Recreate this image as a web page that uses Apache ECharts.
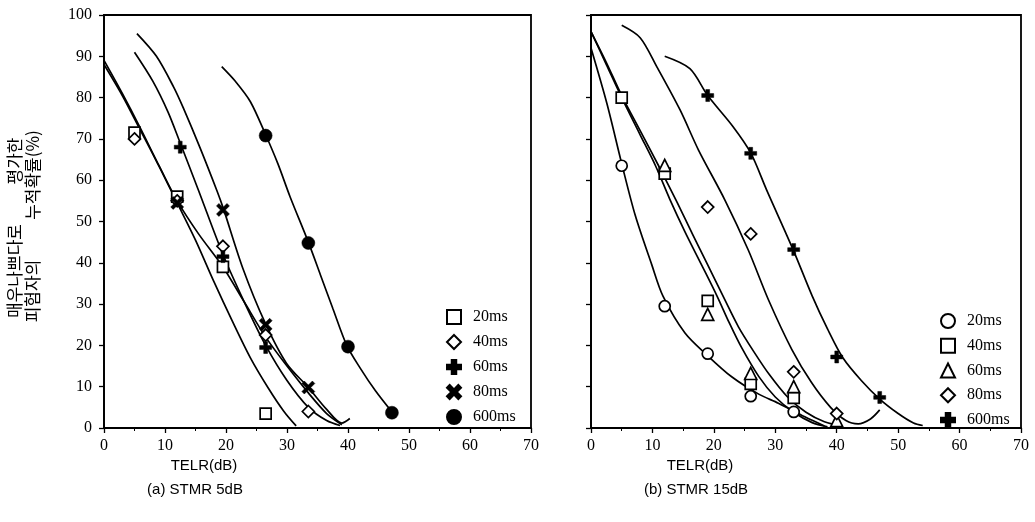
<!DOCTYPE html>
<html>
<head>
<meta charset="utf-8">
<script src="https://cdn.jsdelivr.net/npm/echarts@6/dist/echarts.min.js"></script>
<style>
html, body { margin: 0; padding: 0; background: #fff; }
#chart { width: 1035px; height: 522px; }
</style>
</head>
<body>
<div id="chart"></div>
<script>
// x ticks (TELR, dB) and y ticks (cumulative %)
const xTicks = [0, 10, 20, 30, 40, 50, 60, 70];
const yTicks = [0, 10, 20, 30, 40, 50, 60, 70, 80, 90, 100];
const delays = ['20ms', '40ms', '60ms', '80ms', '600ms'];

// (a) STMR 5dB - measured points
const a20 = [[5, 71.5], [12, 56], [19.5, 39], [26.5, 3.5]];
const a40 = [[5, 70], [12, 55], [19.5, 44], [26.5, 22.5], [33.5, 4]];
const a60 = [[12.5, 68], [19.5, 41.5], [26.5, 19.5]];
const a80 = [[12, 54.5], [19.5, 52.8], [26.5, 25], [33.5, 9.8]];
const a600 = [[26.5, 70.8], [33.5, 44.8], [40, 19.7], [47.2, 3.7]];

// (a) fitted curves
const ca20 = [[0, 89], [3, 81], [6, 72.5], [9, 63.5], [12, 54.5], [15, 45.5], [18, 35.5], [21, 26], [24, 17], [27, 9.5], [29.5, 4], [31.5, 0.5]];
const ca40 = [[0, 88], [3, 80.5], [6, 72], [9, 63.5], [12, 55], [15.5, 47], [19.5, 39], [23, 30.5], [26.5, 22], [30, 15], [33.5, 8.5], [36.5, 3.5], [39, 0.8]];
const ca60 = [[5, 91], [8, 84], [10.5, 76.5], [12.5, 69], [15.5, 57.5], [19.5, 42], [23, 30.5], [26.5, 20], [30, 11.5], [33.5, 5], [36.5, 1.8], [38.7, 0.6]];
const ca80 = [[5.4, 95.5], [8.6, 90], [11.4, 82.6], [13, 77.5], [15.7, 68], [18.5, 57.5], [19.6, 53], [22.8, 38.5], [26.4, 25.5], [29.9, 15.7], [33.5, 9.8], [36.5, 4.5], [39, 1.2], [40.3, 2.3]];
const ca600 = [[19.3, 87.5], [21.5, 84], [24, 79], [26.5, 71], [28.5, 64], [30.5, 56], [33.5, 45], [35.5, 37], [37.5, 29], [39.8, 20], [42, 14.5], [44.5, 9], [47.3, 3.7]];

// (b) STMR 15dB - measured points
const b20 = [[5, 63.5], [12, 29.5], [19, 18], [26, 7.7], [33, 3.9]];
const b40 = [[5, 80], [12, 61.6], [19, 30.8], [26, 10.7], [33, 7.3]];
const b60 = [[12, 63.6], [19, 27.5], [26, 13.2], [33, 10], [40, 1.8]];
const b80 = [[19, 53.5], [26, 47], [33, 13.6], [40, 3.5]];
const b600 = [[19, 80.5], [26, 66.5], [33, 43.2], [40, 17.2], [47, 7.4]];

// (b) fitted curves
const cb20 = [[0, 92], [2.6, 78.5], [5, 64], [7.2, 51.5], [9.9, 39.5], [11.7, 32], [15.3, 23], [19, 17.5], [22.9, 12.4], [27.3, 8.2], [30.5, 6], [34.8, 2.7], [38, 0.5]];
const cb40 = [[0, 96], [2.5, 88], [5, 80], [8, 71], [10.5, 63.5], [12.8, 55.5], [15.3, 47.5], [18, 39.5], [20.5, 32], [22.5, 25.5], [24.5, 19.5], [27.3, 12.5], [30, 7.5], [33, 3.8], [36, 1.3], [38.5, 0.3]];
const cb60 = [[0, 96], [2.5, 88.5], [5, 80.5], [8, 72], [11, 63.5], [13.9, 55], [16.5, 47], [19, 39.5], [21.8, 31], [24, 24.5], [26.5, 18.5], [29, 13], [32, 7.5], [35, 3.8], [38, 1.5], [41, 0.4]];
const cb80 = [[5, 97.5], [8, 94.5], [10.7, 87.5], [14.5, 77], [17.5, 67.3], [21.8, 55.2], [25.6, 43.1], [28.9, 31], [32.7, 19], [35.9, 11], [39, 5], [41.5, 1.8], [43.5, 1], [45.5, 2.2], [47, 4.4]];
const cb600 = [[12, 90], [16.1, 87], [19, 80.5], [23.1, 73], [26, 66.6], [28.6, 57.6], [32.9, 43.2], [36, 32], [38.5, 24], [41, 17], [44, 11.5], [47, 7], [50, 3.5], [52.5, 1.2], [54, 0.6]];

const PLUS = 'path://M3.4,0H6.6V3.4H10V6.6H6.6V10H3.4V6.6H0V3.4H3.4Z';
const CROSS = 'path://M0,1.9L1.9,0L5,3.1L8.1,0L10,1.9L6.9,5L10,8.1L8.1,10L5,6.9L1.9,10L0,8.1L3.1,5Z';

const serif = 'Liberation Serif';

function curve(idx, data) {
    return {
        type: 'line', xAxisIndex: idx, yAxisIndex: idx, data: data,
        smooth: 0.3, symbol: 'none', silent: true, z: 2,
        lineStyle: { color: '#000', width: 1.7 }
    };
}

function marks(idx, name, data, symbol, size, filled) {
    return {
        type: 'scatter', name: name, xAxisIndex: idx, yAxisIndex: idx, data: data,
        symbol: symbol, symbolSize: size, z: 5,
        itemStyle: filled
            ? { color: '#000', borderColor: '#000', borderWidth: 0.5, opacity: 1 }
            : { color: '#fff', borderColor: '#000', borderWidth: 1.7, opacity: 1 }
    };
}

function xAxis(idx) {
    return {
        type: 'value', gridIndex: idx, min: xTicks[0], max: xTicks[xTicks.length - 1], interval: 10,
        axisLine: { show: true, onZero: false, lineStyle: { color: '#000', width: 1.8 } },
        axisTick: { show: true, inside: false, length: 5, lineStyle: { color: '#000', width: 1.3 } },
        minorTick: { show: true, splitNumber: 2, length: 3, lineStyle: { color: '#000', width: 1 } },
        splitLine: { show: false },
        axisLabel: { color: '#000', fontFamily: serif, fontSize: 16, margin: 10 }
    };
}

function yAxis(idx, labels) {
    return {
        type: 'value', gridIndex: idx, min: yTicks[0], max: yTicks[yTicks.length - 1], interval: 10,
        axisLine: { show: true, onZero: false, lineStyle: { color: '#000', width: 1.8 } },
        axisTick: { show: true, inside: false, length: 5, lineStyle: { color: '#000', width: 1.3 } },
        splitLine: { show: false },
        axisLabel: { show: labels, color: '#000', fontFamily: serif, fontSize: 16, margin: 12 }
    };
}

function legend(prefix, left, top, gap) {
    return {
        data: delays.map(d => prefix + d),
        formatter: n => n.slice(1),
        orient: 'vertical', left: left, top: top,
        itemWidth: 14, itemHeight: 14, itemGap: gap,
        selectedMode: false,
        textStyle: { color: '#000', fontFamily: serif, fontSize: 16, padding: [0, 0, 0, 7] }
    };
}

function label(text, x, y, size, font, rot) {
    return {
        type: 'text', x: x, y: y, rotation: rot || 0, silent: true,
        style: { text: text, font: size + 'px "' + font + '"', fill: '#000', align: 'center', verticalAlign: 'middle' }
    };
}

const chart = echarts.init(document.getElementById('chart'));
chart.setOption({
    animation: false,
    backgroundColor: '#fff',
    grid: [
        { left: 104, top: 15, width: 427, height: 413, show: true, borderColor: '#000', borderWidth: 1.8 },
        { left: 591, top: 15, width: 430, height: 413, show: true, borderColor: '#000', borderWidth: 1.8 }
    ],
    xAxis: [xAxis(0), xAxis(1)],
    yAxis: [yAxis(0, true), yAxis(1, false)],
    legend: [legend('a', 441, 304, 9), legend('b', 935, 308, 8.75)],
    graphic: [
        label('TELR(dB)', 204, 466, 15, 'Liberation Sans'),
        label('(a) STMR 5dB', 195, 490, 15, 'Liberation Sans'),
        label('TELR(dB)', 700, 466, 15, 'Liberation Sans'),
        label('(b) STMR 15dB', 696, 490, 15, 'Liberation Sans'),
        label('매우나쁘다로', 15, 271, 17, 'Noto Sans CJK KR', Math.PI / 2),
        label('평가한', 15, 161, 17, 'Noto Sans CJK KR', Math.PI / 2),
        label('피험자의', 33, 291, 17, 'Noto Sans CJK KR', Math.PI / 2),
        label('누적확률(%)', 33, 175, 17, 'Noto Sans CJK KR', Math.PI / 2)
    ],
    series: [
        curve(0, ca20), curve(0, ca40), curve(0, ca60), curve(0, ca80), curve(0, ca600),
        marks(0, 'a20ms', a20, 'rect', 11, false),
        marks(0, 'a40ms', a40, 'diamond', 12, false),
        marks(0, 'a60ms', a60, PLUS, 12, true),
        marks(0, 'a80ms', a80, CROSS, 13, true),
        marks(0, 'a600ms', a600, 'circle', 13, true),

        curve(1, cb20), curve(1, cb40), curve(1, cb60), curve(1, cb80), curve(1, cb600),
        marks(1, 'b20ms', b20, 'circle', 11, false),
        marks(1, 'b40ms', b40, 'rect', 11, false),
        marks(1, 'b60ms', b60, 'triangle', 12, false),
        marks(1, 'b80ms', b80, 'diamond', 12, false),
        marks(1, 'b600ms', b600, PLUS, 12, true)
    ]
});
</script>
</body>
</html>
